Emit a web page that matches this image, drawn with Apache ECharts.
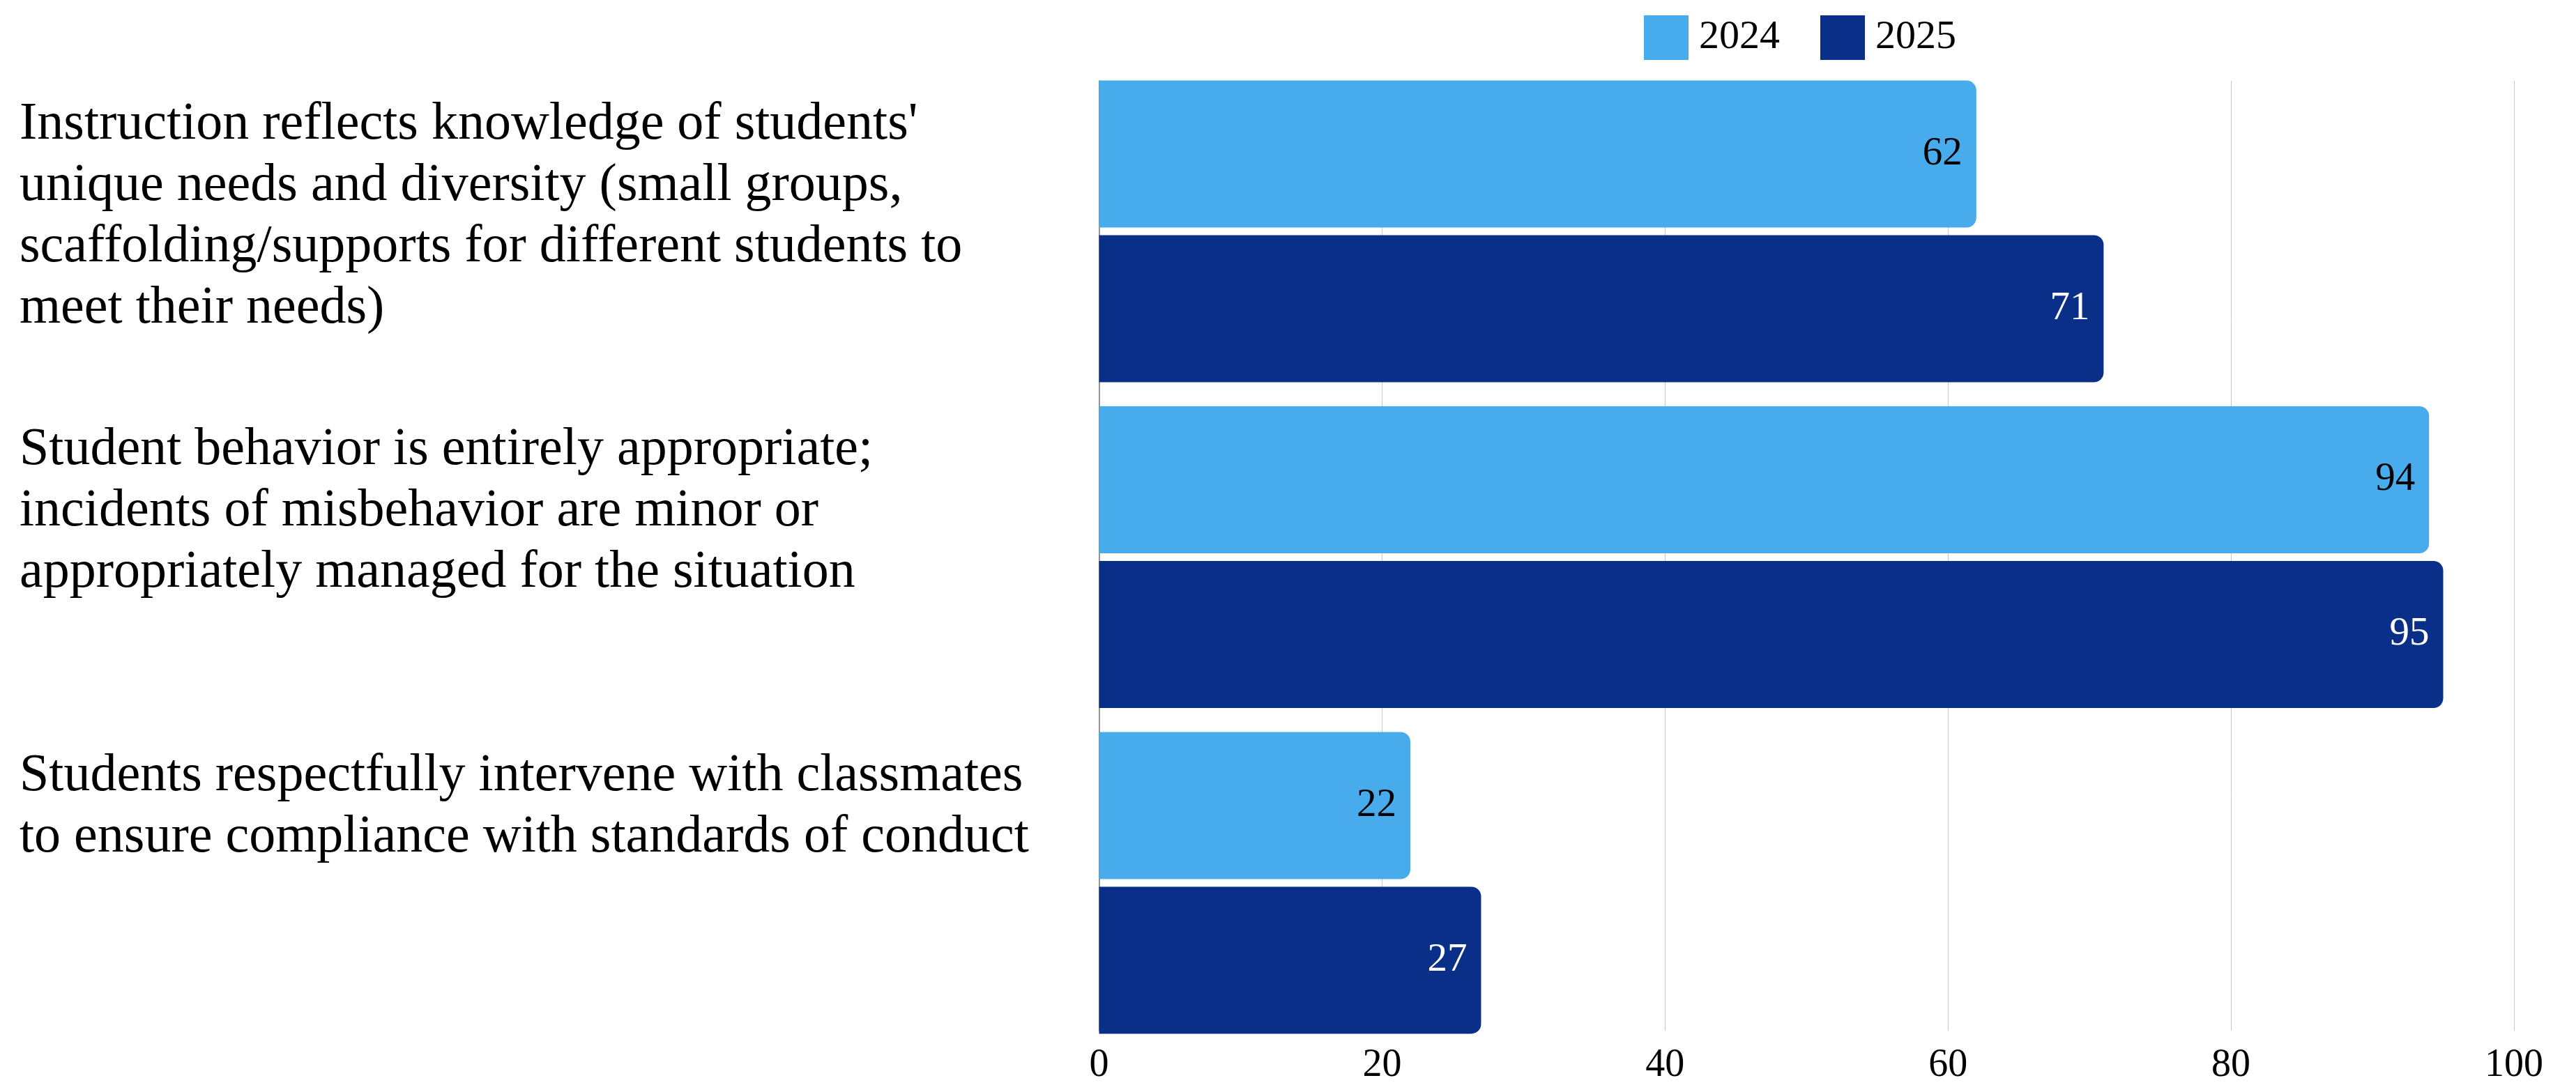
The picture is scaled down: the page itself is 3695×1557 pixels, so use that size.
<!DOCTYPE html>
<html>
<head>
<meta charset="utf-8">
<script src="https://cdn.jsdelivr.net/npm/echarts@6/dist/echarts.min.js"></script>
<style>
  html, body { margin: 0; padding: 0; background: #ffffff; }
  #chart { width: 3695px; height: 1557px; }
</style>
</head>
<body>
<div id="chart"></div>
<script>
// Survey items (top to bottom)
const categories = [
  "Instruction reflects knowledge of students'\nunique needs and diversity (small groups,\nscaffolding/supports for different students to\nmeet their needs)",
  "Student behavior is entirely appropriate;\nincidents of misbehavior are minor or\nappropriately managed for the situation",
  "Students respectfully intervene with classmates\nto ensure compliance with standards of conduct"
];
const seriesNames = ['2024', '2025'];
const values2024 = [62, 94, 22];
const values2025 = [71, 95, 27];
const xTicks = [0, 20, 40, 60, 80, 100];

const COLOR_2024 = '#48ACEC';
const COLOR_2025 = '#0A2F88';
const FONT = 'Liberation Serif';

const chart = echarts.init(document.getElementById('chart'), null, { renderer: 'canvas' });

const plotLeft = 1576.5;
const plotRight = 3695 - 3606;

chart.setOption({
  backgroundColor: '#ffffff',
  animation: false,
  legend: {
    data: seriesNames,
    left: 2353,
    top: 17,
    itemWidth: 64,
    itemHeight: 64,
    itemGap: 58,
    icon: 'rect',
    textStyle: { fontFamily: FONT, fontSize: 58, color: '#000000', padding: [0, 0, 0, 10] }
  },
  grid: [
    // bars: category bands span the full group pitch
    { left: plotLeft, right: plotRight, top: 98.3, bottom: 1557 - 1500.7, containLabel: false },
    // grid lines, value axis labels and the baseline
    { left: plotLeft, right: plotRight, top: 116, bottom: 1557 - 1482, containLabel: false }
  ],
  xAxis: [
    {
      gridIndex: 0, type: 'value', min: xTicks[0], max: xTicks[xTicks.length - 1], interval: 20,
      show: false
    },
    {
      gridIndex: 1, type: 'value', min: xTicks[0], max: xTicks[xTicks.length - 1], interval: 20,
      axisLine: { show: false },
      axisTick: { show: false },
      axisLabel: { fontFamily: FONT, fontSize: 56, color: '#000000', margin: 22 },
      splitLine: { show: true, lineStyle: { color: '#c6c6c6', width: 1 } }
    }
  ],
  yAxis: [
    {
      gridIndex: 0, type: 'category', data: categories, inverse: true,
      axisLine: { show: false },
      axisTick: { show: false },
      splitLine: { show: false },
      axisLabel: {
        interval: 0,
        align: 'left',
        verticalAlign: 'top',
        margin: plotLeft - 28,
        fontFamily: FONT,
        fontSize: 76,
        lineHeight: 88,
        color: '#000000',
        padding: [-197, 0, 0, 0]
      }
    },
    {
      gridIndex: 1, type: 'value', min: 0, max: 1,
      axisLine: { show: true, onZero: false, lineStyle: { color: '#7a7a7a', width: 1.5 } },
      axisTick: { show: false },
      axisLabel: { show: false },
      splitLine: { show: false }
    }
  ],
  series: [
    {
      name: seriesNames[0], type: 'bar', xAxisIndex: 0, yAxisIndex: 0,
      data: values2024,
      barWidth: 211,
      barGap: '5.2%',
      itemStyle: { color: COLOR_2024, borderRadius: [0, 14, 14, 0] },
      label: {
        show: true, position: 'insideRight', distance: 20,
        fontFamily: FONT, fontSize: 57, color: '#000000'
      }
    },
    {
      name: seriesNames[1], type: 'bar', xAxisIndex: 0, yAxisIndex: 0,
      data: values2025,
      barWidth: 211,
      barGap: '5.2%',
      itemStyle: { color: COLOR_2025, borderRadius: [0, 14, 14, 0] },
      label: {
        show: true, position: 'insideRight', distance: 20,
        fontFamily: FONT, fontSize: 57, color: '#ffffff'
      }
    }
  ]
});
</script>
</body>
</html>
